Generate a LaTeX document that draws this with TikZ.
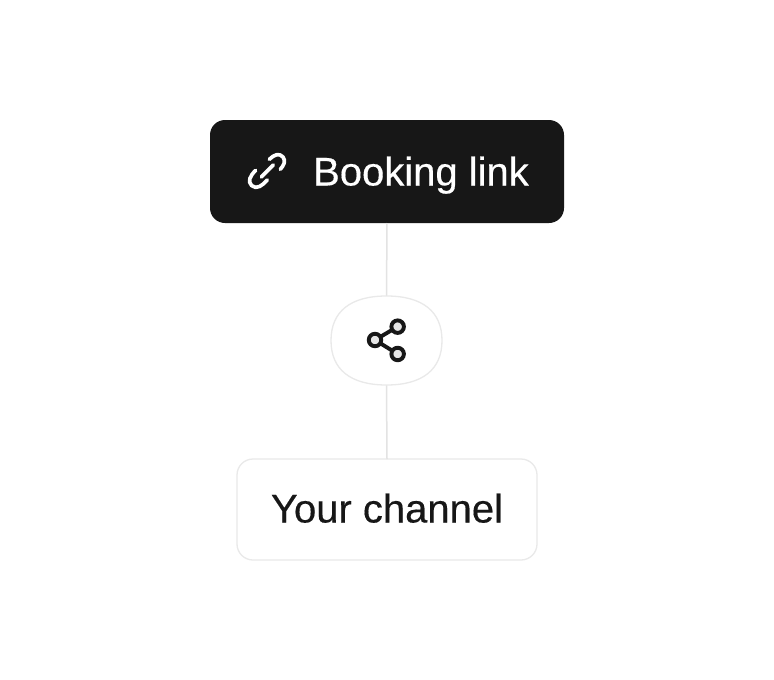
\documentclass[tikz,border=0pt]{standalone}
\usepackage{fontspec}
\setmainfont[FakeBold=0.35]{Liberation Sans}
\definecolor{ink}{HTML}{171717}
\definecolor{edge}{HTML}{E9E9E9}
\definecolor{wire}{HTML}{E3E3E3}
\definecolor{hole}{HTML}{E6E6E6}
\tikzset{
  card/.style={draw=edge,line width=1.3pt,fill=white,rounded corners=16pt,inner sep=0pt,outer sep=0pt,text=ink},
  darkcard/.style={fill=ink,rounded corners=15pt,inner sep=0pt,outer sep=0pt},
  anchorbox/.style={inner sep=0pt,outer sep=0pt},
  label/.style={font=\fontsize{40}{42}\selectfont,inner sep=0pt,anchor=base},
  wireline/.style={draw=wire,line width=1.5pt},
  iconline/.style={line width=3.7pt,line cap=round,line join=round},
  dot/.style={circle,draw=ink,fill=hole,line width=3.9pt,minimum size=12.5pt,inner sep=0pt}
}
\begin{document}
\begin{tikzpicture}[x=1pt,y=-1pt]
\useasboundingbox (0,0) rectangle (774,680);
\fill[white] (0,0) rectangle (774,680);
\node[darkcard,minimum width=354pt,minimum height=103pt] (booking) at (387,171.5) {};
\node[anchorbox,minimum width=111pt,minimum height=89pt] (share) at (386.5,340.5) {};
\node[card,minimum width=300pt,minimum height=101pt] (channel) at (387,509.5) {};
\draw[wireline] (booking.south) -- (share.north);
\draw[wireline] (share.south) -- (channel.north);
\draw[draw=edge,line width=1.3pt,fill=white] (share.north)
  .. controls +(-36,0) and +(0,-29) .. (share.west)
  .. controls +(0,29) and +(-36,0) .. (share.south)
  .. controls +(36,0) and +(0,29) .. (share.east)
  .. controls +(0,-29) and +(36,0) .. (share.north) -- cycle;
\node[label,text=white] (bookingtext) at (421,185.5) {Booking link};
\node[label,text=ink] (channeltext) at (387,522.5) {Your channel};
\begin{scope}[shift={(200,110)},x=0.3333pt,y=-0.3333pt]
\draw[white,iconline] (208,148) .. controls (222,134) and (238,128) .. (249,141) .. controls (258,153) and (252,165) .. (241,178);
\draw[white,iconline] (202,210) .. controls (188,226) and (170,240) .. (155,227) .. controls (142,214) and (150,198) .. (167,181);
\draw[white,iconline] (184,201) -- (220,165);
\end{scope}
\begin{scope}[shift={(320,285)},x=0.3333pt,y=-0.3333pt]
\draw[ink,line width=3.9pt] (165,165) -- (233,125);
\draw[ink,line width=3.9pt] (165,165) -- (233,207);
\node[dot] (d1) at (233,125) {};
\node[dot] (d2) at (165,165) {};
\node[dot] (d3) at (233,207) {};
\end{scope}
\end{tikzpicture}
\end{document}
